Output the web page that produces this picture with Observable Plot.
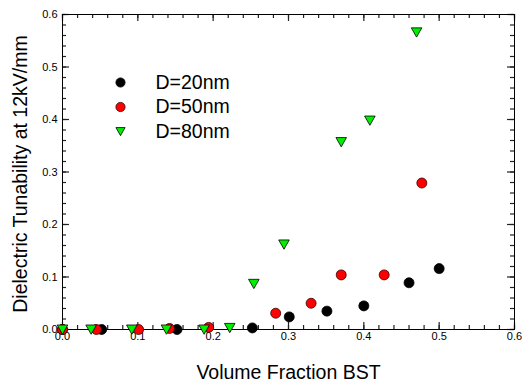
<!DOCTYPE html>
<html><head><meta charset="utf-8">
<script src="https://cdn.jsdelivr.net/npm/d3@7"></script>
<script src="https://cdn.jsdelivr.net/npm/@observablehq/plot@0.6"></script>
<style>body{margin:0;background:#fff} svg{display:block}</style>
</head><body><div id="chart"></div>
<script>
// Data
const xD20 = [0, 0.052, 0.152, 0.252, 0.301, 0.351, 0.400, 0.460, 0.500];
const yD20 = [0, 0, 0, 0.003, 0.024, 0.035, 0.045, 0.089, 0.116];
const xD50 = [0, 0.045, 0.101, 0.142, 0.194, 0.283, 0.330, 0.370, 0.427, 0.477];
const yD50 = [0, 0, 0, 0.002, 0.004, 0.031, 0.050, 0.104, 0.104, 0.279];
const xD80 = [0, 0.038, 0.092, 0.138, 0.188, 0.222, 0.254, 0.294, 0.370, 0.408, 0.470];
const yD80 = [0, 0, 0, 0, 0, 0.003, 0.087, 0.162, 0.357, 0.398, 0.566];
const seriesLabels = ["D=20nm", "D=50nm", "D=80nm"];
const xTicks = [0, 0.1, 0.2, 0.3, 0.4, 0.5, 0.6];
const yTicks = [0, 0.1, 0.2, 0.3, 0.4, 0.5, 0.6];
const minorTicks = d3.range(0, 0.6001, 0.02);
const xLabel = "Volume Fraction BST";
const yLabel = "Dielectric Tunability at 12kV/mm";

const rows = (xs, ys) => xs.map((x, i) => ({x, y: ys[i]}));
const d20 = rows(xD20, yD20), d50 = rows(xD50, yD50), d80 = rows(xD80, yD80);

const triDown = {draw(ctx, size) {
  const r = Math.sqrt(size / Math.PI);
  ctx.moveTo(-r, -0.85 * r); ctx.lineTo(r, -0.85 * r); ctx.lineTo(0, 0.9 * r); ctx.closePath();
}};

const styles = [
  {symbol: "circle", fill: "#000000", stroke: "#000000"},
  {symbol: "circle", fill: "#ff0000", stroke: "#3a0000"},
  {symbol: triDown, fill: "#00ee00", stroke: "#000000"}
];
const fmt = d => d.toFixed(1);
const legendDy = [68, 92.5, 117];

const W = 523, H = 382, mL = 62, mR = 9, mT = 14, mB = 53;
const fw = W - mL - mR, fh = H - mT - mB;
const majorLen = 7, minorLen = 4;
const tickStroke = "#222";
const tw = 1.2;

const chart = Plot.plot({
  width: W, height: H,
  marginLeft: mL, marginRight: mR, marginTop: mT, marginBottom: mB,
  style: {fontFamily: "'Liberation Sans', Arial, sans-serif", background: "#fff", color: "#000"},
  x: {domain: [0, 0.6]},
  y: {domain: [0, 0.6]},
  marks: [
    // inward ticks (bottom, top, left, right)
    Plot.ruleX(xTicks, {x: d => d, insetTop: fh - majorLen, stroke: tickStroke, strokeWidth: tw}),
    Plot.ruleX(minorTicks, {x: d => d, insetTop: fh - minorLen, stroke: tickStroke, strokeWidth: tw}),
    Plot.ruleX(xTicks, {x: d => d, insetBottom: fh - majorLen, stroke: tickStroke, strokeWidth: tw}),
    Plot.ruleX(minorTicks, {x: d => d, insetBottom: fh - minorLen, stroke: tickStroke, strokeWidth: tw}),
    Plot.ruleY(yTicks, {y: d => d, insetRight: fw - majorLen, stroke: tickStroke, strokeWidth: tw}),
    Plot.ruleY(minorTicks, {y: d => d, insetRight: fw - minorLen, stroke: tickStroke, strokeWidth: tw}),
    Plot.ruleY(yTicks, {y: d => d, insetLeft: fw - majorLen, stroke: tickStroke, strokeWidth: tw}),
    Plot.ruleY(minorTicks, {y: d => d, insetLeft: fw - minorLen, stroke: tickStroke, strokeWidth: tw}),
    Plot.frame({stroke: "#000"}),
    // tick labels
    Plot.axisX(xTicks, {anchor: "bottom", tickSize: 0, tickPadding: 3, tickFormat: fmt, fontSize: 11, label: null}),
    Plot.axisY(yTicks, {anchor: "left", tickSize: 0, tickPadding: 5, tickFormat: fmt, fontSize: 11, label: null}),
    // axis titles
    Plot.text([xLabel], {frameAnchor: "bottom", dy: 49, lineAnchor: "bottom", textAnchor: "middle", fontSize: 19.5}),
    Plot.text([yLabel], {frameAnchor: "left", dx: -36, dy: 2, rotate: -90, lineAnchor: "bottom", textAnchor: "middle", fontSize: 19.5}),
    // data
    Plot.dot(d20, {x: "x", y: "y", r: 5, symbol: styles[0].symbol, fill: styles[0].fill, stroke: styles[0].stroke, strokeWidth: 0.8}),
    Plot.dot(d50, {x: "x", y: "y", r: 5, symbol: styles[1].symbol, fill: styles[1].fill, stroke: styles[1].stroke, strokeWidth: 0.8}),
    Plot.dot(d80, {x: "x", y: "y", r: 5.3, symbol: styles[2].symbol, fill: styles[2].fill, stroke: styles[2].stroke, strokeWidth: 0.8}),
    // legend
    ...seriesLabels.flatMap((label, i) => [
      Plot.dot([label], {frameAnchor: "top-left", dx: 58, dy: legendDy[i], r: 4.6, symbol: styles[i].symbol, fill: styles[i].fill, stroke: styles[i].stroke, strokeWidth: 0.8}),
      Plot.text([label], {frameAnchor: "top-left", dx: 93, dy: legendDy[i], textAnchor: "start", lineAnchor: "middle", fontSize: 19.5})
    ])
  ]
});
document.getElementById("chart").appendChild(chart);
</script>
</body></html>
